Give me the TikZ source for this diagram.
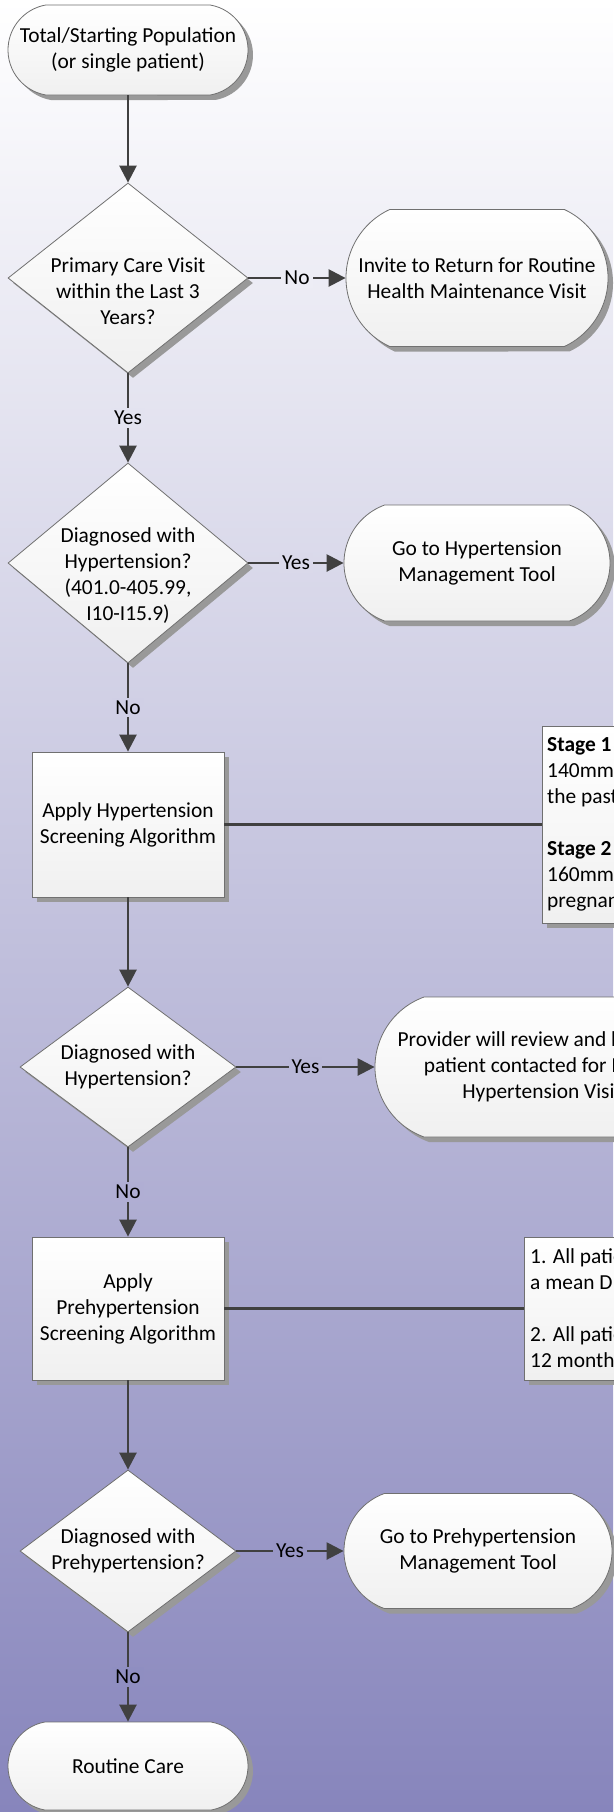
\documentclass[tikz,border=0pt]{standalone}
\usepackage{fontspec}
\setmainfont{Carlito}
\usetikzlibrary{shapes.geometric,shapes.misc,shadows,arrows.meta}
\definecolor{bgbot}{RGB}{135,133,188}
\definecolor{linegray}{RGB}{64,64,64}
\definecolor{edgegray}{RGB}{112,112,112}
\definecolor{shadegray}{RGB}{153,153,153}

\begin{document}
\begin{tikzpicture}[x=1pt, y=-1pt,
  boxbase/.style={draw=edgegray, line width=0.8pt, top color=white, bottom color=black!6, inner sep=0pt,
    drop shadow={shadow xshift=5pt, shadow yshift=-5pt, fill=shadegray, opacity=1}},
  term/.style={boxbase, rounded rectangle, rounded rectangle arc length=#1},
  term/.default=140,
  dec/.style={boxbase, diamond},
  proc/.style={boxbase, rectangle},
  note/.style={boxbase, rectangle},
  txt/.style={align=center, inner sep=0pt, font=\fontsize{21.4}{26}\selectfont},
  notetxt/.style={align=left, inner sep=0pt, anchor=west, font=\fontsize{21.4}{26}\selectfont},
  arr/.style={draw=linegray, line width=2.5pt, -{Triangle[length=17pt, width=17pt]}},
  plainline/.style={draw=linegray, line width=2.5pt},
  lab/.style={fill=bgbot!#1!white, inner sep=3pt, font=\fontsize{21.4}{26}\selectfont}]

  \useasboundingbox (0,0) rectangle (613,1812);
  \fill[top color=white, bottom color=bgbot] (0,0) rectangle (613,1812);

  % main column
  \node[term=160, minimum width=240pt, minimum height=90pt] (start) at (128,50) {};
  \node[txt] (starttext) at (start) {Total/Starting Population\\(or single patient)};

  \node[dec, minimum width=240pt, minimum height=190pt] (q1) at (128,278) {};
  \node[txt, yshift=-13pt] (q1text) at (q1) {Primary Care Visit\\within the Last 3\\Years?};

  \node[dec, minimum width=240pt, minimum height=200pt] (q2) at (128,563) {};
  \node[txt, yshift=-13pt] (q2text) at (q2) {Diagnosed with\\Hypertension?\\(401.0-405.99,\\I10-I15.9)};

  \node[proc, minimum width=192pt, minimum height=145pt] (htnalg) at (128,824.5) {};
  \node[txt] (htnalgtext) at (htnalg) {Apply Hypertension\\Screening Algorithm};

  \node[dec, minimum width=216pt, minimum height=160pt] (q3) at (128,1067) {};
  \node[txt] (q3text) at (q3) {Diagnosed with\\Hypertension?};

  \node[proc, minimum width=192pt, minimum height=143pt] (prealg) at (128,1308.5) {};
  \node[txt] (prealgtext) at (prealg) {Apply\\Prehypertension\\Screening Algorithm};

  \node[dec, minimum width=216pt, minimum height=162pt] (q4) at (128,1551) {};
  \node[txt] (q4text) at (q4) {Diagnosed with\\Prehypertension?};

  \node[term=160, minimum width=240pt, minimum height=88pt] (routine) at (128,1766) {};
  \node[txt] (routinetext) at (routine) {Routine Care};

  % right column
  \node[term=130, minimum width=262pt, minimum height=137pt] (invite) at (477,278) {};
  \node[txt] (invitetext) at (invite) {Invite to Return for Routine\\Health Maintenance Visit};

  \node[term, minimum width=266pt, minimum height=116pt] (htntool) at (477,563) {};
  \node[txt] (htntooltext) at (htntool) {Go to Hypertension\\Management Tool};

  \node[note, minimum width=230pt, minimum height=197pt, anchor=west] (htnnote) at (542,824.5) {};
  \node[notetxt] (htnnotetext) at ([xshift=5pt]htnnote.west) {\textbf{Stage 1}\\140mm\\the past\\[26pt]\textbf{Stage 2}\\160mm\\pregnant};

  \node[term, minimum width=334pt, minimum height=140pt] (provider) at (542,1067) {};
  \node[txt] (providertext) at (provider) {Provider will review and have the\\patient contacted for Initial\\Hypertension Visit};

  \node[note, minimum width=230pt, minimum height=143pt, anchor=west] (prenote) at (524,1308.5) {};
  \node[notetxt] (prenotetext) at ([xshift=6pt]prenote.west) {1. All patients\\a mean DBP\\[26pt]2. All patients\\12 months};

  \node[term, minimum width=268pt, minimum height=115pt] (pretool) at (478,1551) {};
  \node[txt] (pretooltext) at (pretool) {Go to Prehypertension\\Management Tool};

  % connectors
  \draw[arr] (start.south) -- (q1.north);
  \draw[arr] (q1.east) -- node[lab=15]{No} (invite.west);
  \draw[arr] (q1.south) -- node[lab=23]{Yes} (q2.north);
  \draw[arr] (q2.east) -- node[lab=31]{Yes} (htntool.west);
  \draw[arr] (q2.south) -- node[lab=39]{No} (htnalg.north);
  \draw[plainline] (htnalg.east) -- (htnnote.west);
  \draw[arr] (htnalg.south) -- (q3.north);
  \draw[arr] (q3.east) -- node[lab=59]{Yes} (provider.west);
  \draw[arr] (q3.south) -- node[lab=66]{No} (prealg.north);
  \draw[plainline] (prealg.east) -- (prenote.west);
  \draw[arr] (prealg.south) -- (q4.north);
  \draw[arr] (q4.east) -- node[lab=86]{Yes} (pretool.west);
  \draw[arr] (q4.south) -- node[lab=93]{No} (routine.north);
\end{tikzpicture}
\end{document}
